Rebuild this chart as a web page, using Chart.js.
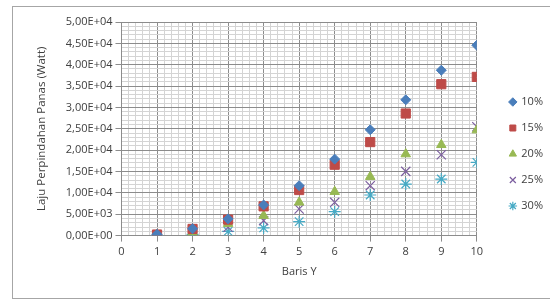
<!DOCTYPE html>
<html>
<head>
<meta charset="utf-8">
<script src="https://cdn.jsdelivr.net/npm/chart.js@4.4.1/dist/chart.umd.min.js"></script>
<style>
  body { margin: 0; background: #fff; }
  #wrap { width: 550px; height: 300px; position: relative; }
</style>
</head>
<body>
<div id="wrap"><canvas id="grafik"></canvas></div>
<script>
const barisY = [1, 2, 3, 4, 5, 6, 7, 8, 9, 10];
const label = ["10%", "15%", "20%", "25%", "30%"];
const q10 = [300, 1600, 3900, 7170, 11680, 17900, 24770, 31780, 38710, 44560];
const q15 = [250, 1560, 3740, 6850, 10670, 16590, 21890, 28580, 35440, 37150];
const q20 = [150, 780, 2800, 4670, 7790, 10280, 13790, 19090, 21260, 24700];
const q25 = [100, 500, 1950, 3500, 6230, 7790, 11680, 15030, 18930, 25470];
const q30 = [50, 300, 1000, 1790, 3270, 5600, 9500, 12070, 13240, 17130];

const warna = ["#4a7ebb", "#be4b48", "#98b954", "#7d60a0", "#46aac5"];
const gaya = ["rectRot", "rect", "triangle", "crossRot", "star"];
const ukuran = [5, 6.5, 5.5, 6.5, 6];
const semua = [q10, q15, q20, q25, q30];

const titik = (ys) => barisY.map((x, i) => ({ x: x, y: ys[i] }));

// format Excel: 5,00E+04
function formatE(v) {
  if (v === 0) return "0,00E+00";
  const s = v.toExponential(2).split("e");
  const exp = parseInt(s[1], 10);
  const e = (exp < 0 ? "-" : "+") + String(Math.abs(exp)).padStart(2, "0");
  return s[0].replace(".", ",") + "E" + e;
}

const isMajorX = (v) => Math.abs(v - Math.round(v)) < 1e-6;
const isMajorY = (v) => Math.abs(v / 5000 - Math.round(v / 5000)) < 1e-6;

const bingkai = {
  id: "bingkai",
  afterLayout(chart) {
    // geser legenda sedikit ke kanan seperti di Excel
    const lg = chart.legend;
    lg.left += 18; lg.right += 18;
    lg.top += 4; lg.bottom += 4;
  },
  beforeDraw(chart) {
    const c = chart.ctx;
    c.save();
    c.strokeStyle = "#a6a6a6";
    c.lineWidth = 1;
    c.strokeRect(12.5, 6.5, 600, 292);
    c.restore();
  }
};

const ctx = document.getElementById("grafik");

new Chart(ctx, {
  type: "scatter",
  data: {
    datasets: semua.map((ys, i) => ({
      label: label[i],
      data: titik(ys),
      pointStyle: gaya[i],
      pointRadius: ukuran[i],
      pointHoverRadius: ukuran[i],
      backgroundColor: warna[i],
      borderColor: warna[i],
      borderWidth: i >= 3 ? 1.2 : 1
    }))
  },
  options: {
    responsive: true,
    maintainAspectRatio: false,
    animation: false,
    layout: { padding: { left: 35, top: 22, right: 15, bottom: 22 } },
    plugins: {
      legend: {
        position: "right",
        labels: {
          usePointStyle: true,
          boxWidth: 6,
          boxHeight: 6,
          padding: 15,
          color: "#404040",
          font: { family: "Open Sans", size: 11 }
        }
      },
      tooltip: { enabled: false }
    },
    scales: {
      x: {
        type: "linear",
        min: 0,
        max: 10,
        ticks: {
          stepSize: 0.2,
          autoSkip: false,
          maxRotation: 0,
          padding: 4,
          color: "#404040",
          font: { family: "Open Sans", size: 11 },
          callback: (v) => (isMajorX(v) ? String(Math.round(v)) : "")
        },
        grid: {
          color: (c) => (isMajorX(c.tick.value) ? "#8c8c8c" : "#d4d4d4"),
          tickColor: (c) => (isMajorX(c.tick.value) ? "#8c8c8c" : "rgba(0,0,0,0)"),
          tickLength: 6
        },
        border: { color: "#8c8c8c" },
        title: {
          display: true,
          text: "Baris Y",
          color: "#404040",
          font: { family: "Open Sans", size: 11 },
          padding: { top: 2, bottom: 0 }
        }
      },
      y: {
        min: 0,
        max: 50000,
        ticks: {
          stepSize: 1000,
          autoSkip: false,
          padding: 3,
          color: "#404040",
          font: { family: "Open Sans", size: 11 },
          callback: (v) => (isMajorY(v) ? formatE(v) : "")
        },
        grid: {
          color: (c) => (isMajorY(c.tick.value) ? "#8c8c8c" : "#d4d4d4"),
          tickColor: (c) => (isMajorY(c.tick.value) ? "#8c8c8c" : "rgba(0,0,0,0)"),
          tickLength: 6
        },
        border: { color: "#8c8c8c" },
        title: {
          display: true,
          text: "Laju Perpindahan Panas (Watt)",
          color: "#404040",
          font: { family: "Open Sans", size: 11.5 },
          padding: { top: 0, bottom: 14 }
        }
      }
    }
  },
  plugins: [bingkai]
});
</script>
</body>
</html>
